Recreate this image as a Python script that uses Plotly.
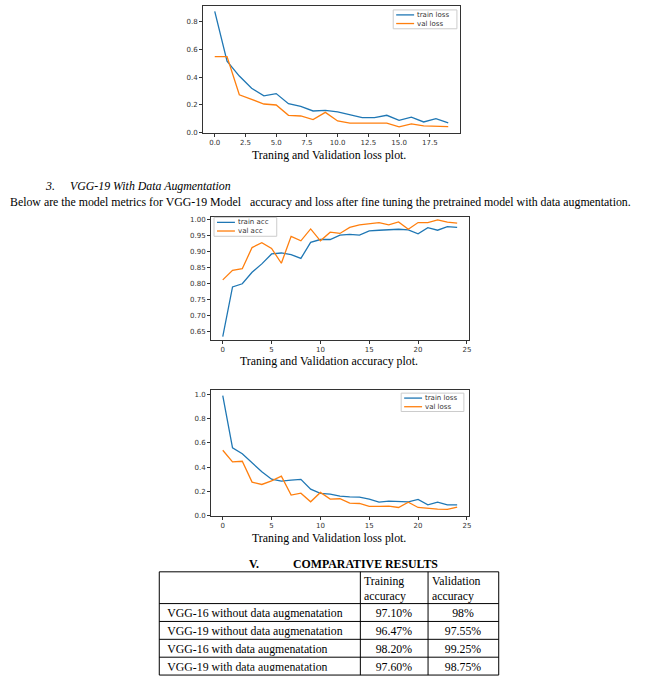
import plotly.graph_objects as go

W, H = 661, 687

# ---------------- data ----------------
epochs1 = list(range(20))
train_loss1 = [0.872, 0.515, 0.408, 0.32, 0.266, 0.282, 0.209, 0.19, 0.157, 0.161,
               0.15, 0.128, 0.109, 0.109, 0.126, 0.09, 0.112, 0.078, 0.102, 0.071]
val_loss1 = [0.548, 0.548, 0.273, 0.242, 0.207, 0.2, 0.126, 0.121, 0.095, 0.147,
             0.085, 0.069, 0.069, 0.064, 0.069, 0.043, 0.064, 0.05, 0.045, 0.045]

epochs2 = list(range(25))
train_acc2 = [0.635, 0.79, 0.80, 0.836, 0.862, 0.893, 0.896, 0.891, 0.879, 0.929,
              0.938, 0.938, 0.952, 0.954, 0.952, 0.965, 0.967, 0.969, 0.970, 0.968,
              0.956, 0.975, 0.967, 0.978, 0.976]
val_acc2 = [0.812, 0.842, 0.847, 0.913, 0.928, 0.91, 0.864, 0.948, 0.934, 0.971,
            0.934, 0.961, 0.957, 0.976, 0.984, 0.988, 0.991, 0.984, 0.993, 0.97,
            0.991, 0.991, 0.999, 0.992, 0.989]

epochs3 = list(range(25))
train_loss3 = [0.99, 0.56, 0.512, 0.438, 0.362, 0.301, 0.285, 0.293, 0.30, 0.219,
               0.184, 0.178, 0.162, 0.156, 0.153, 0.137, 0.112, 0.121, 0.115, 0.115,
               0.134, 0.09, 0.112, 0.09, 0.09]
val_loss3 = [0.54, 0.444, 0.449, 0.277, 0.258, 0.288, 0.326, 0.17, 0.186, 0.115,
             0.192, 0.137, 0.14, 0.104, 0.101, 0.077, 0.077, 0.079, 0.068, 0.112,
             0.068, 0.06, 0.055, 0.052, 0.071]

table_header = ["", "Training<br>accuracy", "Validation<br>accuracy"]
model_names = ["VGG-16 without data augmenatation", "VGG-19 without data augmenatation",
               "VGG-16 with data augmenatation", "VGG-19 with data augmenatation"]
train_accuracy = ["97.10%", "96.47%", "98.20%", "97.60%"]
val_accuracy = ["98%", "97.55%", "99.25%", "98.75%"]

BLUE = "#1f77b4"
ORANGE = "#ff7f0e"
SERIF = "Liberation Serif, Times New Roman, serif"
SANS = "DejaVu Sans, sans-serif"


def px_x(x):
    return x / W


def px_y(y):
    return 1 - y / H


fig = go.Figure()

series = [
    (epochs1, train_loss1, "train loss", BLUE, "x", "y"),
    (epochs1, val_loss1, "val loss", ORANGE, "x", "y"),
    (epochs2, train_acc2, "train acc", BLUE, "x2", "y2"),
    (epochs2, val_acc2, "val acc", ORANGE, "x2", "y2"),
    (epochs3, train_loss3, "train loss", BLUE, "x3", "y3"),
    (epochs3, val_loss3, "val loss", ORANGE, "x3", "y3"),
]
for xs, ys, name, col, xa, ya in series:
    fig.add_trace(go.Scatter(x=xs, y=ys, mode="lines", name=name, showlegend=False,
                             line=dict(color=col, width=1.3), xaxis=xa, yaxis=ya))

# ---------------- table ----------------
TBL_L, TBL_R, TBL_T = 160, 501, 575
HEAD_H, ROW_H = 32, 18
COLW = [202, 68, 71]
n_rows = len(model_names)
TBL_B = TBL_T + HEAD_H + ROW_H * n_rows
TXT_SHIFT = 4  # plotly table text sits low in its cell; lift the (borderless) table a bit

fig.add_trace(go.Table(
    domain=dict(x=[px_x(TBL_L), px_x(TBL_R)],
                y=[px_y(TBL_B - TXT_SHIFT), px_y(TBL_T - TXT_SHIFT)]),
    columnwidth=COLW,
    header=dict(values=["", "", ""], height=HEAD_H,
                line=dict(color="rgba(0,0,0,0)", width=0), fill=dict(color="rgba(0,0,0,0)"),
                font=dict(family=SERIF, size=12, color="black")),
    cells=dict(values=[model_names, train_accuracy, val_accuracy], height=ROW_H,
               align=["left", "center", "center"],
               line=dict(color="rgba(0,0,0,0)", width=0), fill=dict(color="rgba(0,0,0,0)"),
               font=dict(family=SERIF, size=11.8, color="black")),
))

axis_common = dict(showline=True, linecolor="#333", linewidth=1, mirror=True,
                   ticks="outside", ticklen=3, tickwidth=1, tickcolor="#333",
                   showgrid=False, zeroline=False,
                   tickfont=dict(family=SANS, size=7, color="#333"))

ann = []
shapes = []

# table grid lines
row_lines = [TBL_T, TBL_T + HEAD_H] + [TBL_T + HEAD_H + ROW_H * (i + 1) for i in range(n_rows)]
for yy in row_lines:
    shapes.append(dict(type="line", xref="paper", yref="paper", x0=px_x(TBL_L), x1=px_x(TBL_R),
                       y0=px_y(yy), y1=px_y(yy), line=dict(color="black", width=1)))
col_lines = [TBL_L]
for w in COLW:
    col_lines.append(col_lines[-1] + w)
for xx in col_lines:
    shapes.append(dict(type="line", xref="paper", yref="paper", x0=px_x(xx), x1=px_x(xx),
                       y0=px_y(TBL_T), y1=px_y(TBL_B), line=dict(color="black", width=1)))


def text(x, y, s, size=11.85, anchor="center", bold=False, italic=False, family=SERIF,
         color="black"):
    if bold:
        s = "<b>" + s + "</b>"
    if italic:
        s = "<i>" + s + "</i>"
    ann.append(dict(x=px_x(x), y=px_y(y), xref="paper", yref="paper", text=s,
                    showarrow=False, xanchor=anchor, yanchor="middle",
                    font=dict(family=family, size=size, color=color)))


text(331, 155, "Traning and Validation loss plot.")
text(43, 186, "3.", anchor="left", italic=True)
text(68, 186, "VGG-19 With Data Augmentation", anchor="left", italic=True)
text(8, 202, "Below are the model metrics for VGG-19 Model\u00a0\u00a0\u00a0accuracy and loss after fine tuning the pretrained model with data augmentation.", anchor="left")
text(331, 363, "Traning and Validation accuracy plot.")
text(331, 541, "Traning and Validation loss plot.")
text(248, 567, "V.", anchor="left", bold=True)
text(292, 567, "COMPARATIVE RESULTS", anchor="left", bold=True)

# table header labels
for xl, lab in zip(col_lines[:-1], table_header):
    if lab:
        ann.append(dict(x=px_x(xl + 2), y=px_y(TBL_T + 17), xref="paper", yref="paper",
                        text=lab, showarrow=False, xanchor="left", yanchor="middle", align="left",
                        font=dict(family=SERIF, size=11.8, color="black")))


# matplotlib-style legends
def legend(box, entries):
    x0, y0, x1, y1 = box
    shapes.append(dict(type="rect", xref="paper", yref="paper",
                       x0=px_x(x0), x1=px_x(x1), y0=px_y(y0), y1=px_y(y1),
                       line=dict(color="#cccccc", width=1), fillcolor="white", layer="above"))
    for i, (name, col) in enumerate(entries):
        yy = y0 + 5 + i * 8.7
        shapes.append(dict(type="line", xref="paper", yref="paper",
                           x0=px_x(x0 + 3), x1=px_x(x0 + 21), y0=px_y(yy), y1=px_y(yy),
                           line=dict(color=col, width=1.3), layer="above"))
        text(x0 + 22, yy, name, size=7, anchor="left", family=SANS, color="#333")


legend((395, 9, 459, 28), [("train loss", BLUE), ("val loss", ORANGE)])
legend((215, 218, 278, 237), [("train acc", BLUE), ("val acc", ORANGE)])
legend((403, 395, 466, 413.5), [("train loss", BLUE), ("val loss", ORANGE)])

fig.update_layout(
    width=W, height=H, margin=dict(l=0, r=0, t=0, b=0),
    paper_bgcolor="white", plot_bgcolor="white",
    showlegend=False,
    xaxis=dict(domain=[px_x(204), px_x(462)], range=[-0.95, 19.95], anchor="y",
               tickvals=[0, 2.5, 5, 7.5, 10, 12.5, 15, 17.5], tickformat=".1f", **axis_common),
    yaxis=dict(domain=[px_y(133), px_y(5)], range=[-0.0015, 0.9115], anchor="x",
               tickvals=[0, 0.2, 0.4, 0.6, 0.8], tickformat=".1f", **axis_common),
    xaxis2=dict(domain=[px_x(212), px_x(471)], range=[-1.2, 25.2], anchor="y2",
                tickvals=[0, 5, 10, 15, 20, 25], **axis_common),
    yaxis2=dict(domain=[px_y(341), px_y(218)], range=[0.626, 1.007], anchor="x2",
                tickvals=[0.65, 0.70, 0.75, 0.80, 0.85, 0.90, 0.95, 1.00], tickformat=".2f",
                **axis_common),
    xaxis3=dict(domain=[px_x(212), px_x(471)], range=[-1.2, 25.2], anchor="y3",
                tickvals=[0, 5, 10, 15, 20, 25], **axis_common),
    yaxis3=dict(domain=[px_y(518.5), px_y(391.5)], range=[0.0, 1.04], anchor="x3",
                tickvals=[0, 0.2, 0.4, 0.6, 0.8, 1.0], tickformat=".1f", **axis_common),
    annotations=ann,
    shapes=shapes,
)

fig.write_html("out.html", config={"displayModeBar": False},
               post_script="document.body.style.margin='0';")
